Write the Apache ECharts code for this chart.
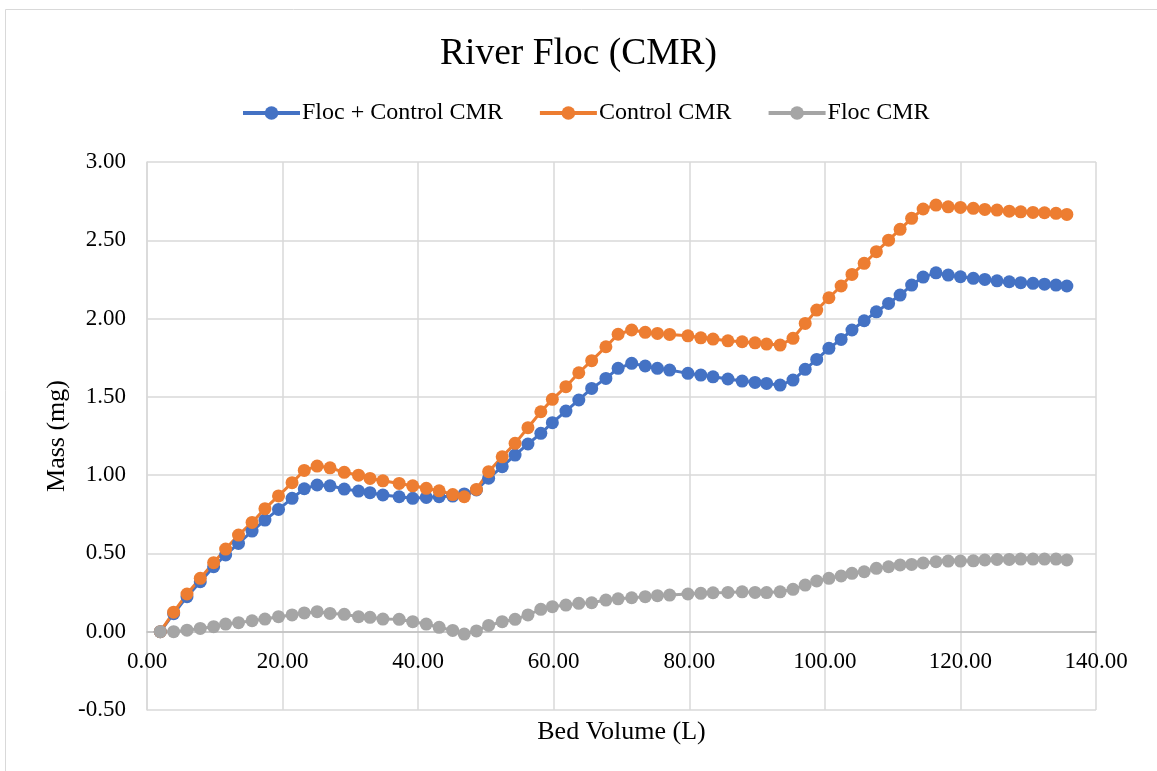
<!DOCTYPE html>
<html>
<head>
<meta charset="utf-8">
<title>River Floc (CMR)</title>
<script src="https://cdn.jsdelivr.net/npm/echarts@6/dist/echarts.min.js"></script>
<style>
  html, body { margin: 0; padding: 0; background: #fff; }
  #lineChart { width: 1157px; height: 771px; }
</style>
</head>
<body>
<div id="lineChart"></div>
<script>
// values
let bedVolume = [1.96, 3.93, 5.9, 7.86, 9.83, 11.6, 13.5, 15.5, 17.4, 19.4, 21.4, 23.2, 25.1, 27.0, 29.1, 31.2, 32.9, 34.8,
  37.2, 39.2, 41.2, 43.1, 45.1, 46.8, 48.6, 50.4, 52.4, 54.3, 56.2, 58.1, 59.8, 61.8, 63.7, 65.6, 67.7, 69.5,
  71.5, 73.5, 75.3, 77.1, 79.8, 81.7, 83.5, 85.7, 87.8, 89.7, 91.4, 93.4, 95.3, 97.1, 98.8, 100.6, 102.4, 104.0,
  105.8, 107.6, 109.4, 111.1, 112.8, 114.5, 116.4, 118.2, 120.0, 121.9, 123.6, 125.4, 127.2, 128.9, 130.7, 132.4, 134.1, 135.7]

let flocControl = [0, 0.115, 0.224, 0.319, 0.415, 0.49, 0.564, 0.643, 0.713, 0.781, 0.852, 0.913, 0.937, 0.932, 0.911, 0.898, 0.888, 0.873,
  0.862, 0.852, 0.858, 0.862, 0.866, 0.88, 0.905, 0.98, 1.054, 1.128, 1.199, 1.267, 1.335, 1.409, 1.48, 1.554, 1.618, 1.682,
  1.714, 1.697, 1.682, 1.671, 1.65, 1.639, 1.628, 1.614, 1.601, 1.592, 1.586, 1.575, 1.607, 1.676, 1.739, 1.81, 1.867, 1.927,
  1.986, 2.043, 2.097, 2.15, 2.214, 2.265, 2.292, 2.278, 2.267, 2.257, 2.25, 2.241, 2.235, 2.229, 2.225, 2.22, 2.214, 2.208]

let control = [0, 0.125, 0.241, 0.341, 0.441, 0.528, 0.617, 0.698, 0.786, 0.867, 0.952, 1.03, 1.058, 1.047, 1.018, 1.0, 0.979, 0.964,
  0.947, 0.932, 0.916, 0.9, 0.876, 0.862, 0.909, 1.022, 1.117, 1.203, 1.303, 1.405, 1.484, 1.565, 1.654, 1.731, 1.82, 1.9,
  1.927, 1.912, 1.905, 1.899, 1.89, 1.877, 1.869, 1.858, 1.852, 1.845, 1.837, 1.831, 1.874, 1.969, 2.054, 2.133, 2.208, 2.282,
  2.353, 2.427, 2.501, 2.57, 2.64, 2.70, 2.725, 2.714, 2.71, 2.704, 2.697, 2.693, 2.686, 2.682, 2.678, 2.676, 2.672, 2.665]

let floc = [0, 0, 0.01, 0.021, 0.032, 0.049, 0.058, 0.07, 0.081, 0.096, 0.107, 0.12, 0.128, 0.117, 0.111, 0.096, 0.092, 0.081,
  0.079, 0.064, 0.049, 0.028, 0.008, -0.015, 0.005, 0.04, 0.064, 0.079, 0.107, 0.143, 0.16, 0.17, 0.181, 0.185, 0.202, 0.21,
  0.217, 0.224, 0.23, 0.234, 0.241, 0.245, 0.249, 0.251, 0.255, 0.251, 0.25, 0.255, 0.271, 0.298, 0.324, 0.341, 0.356, 0.373,
  0.383, 0.405, 0.415, 0.426, 0.43, 0.439, 0.447, 0.451, 0.451, 0.453, 0.458, 0.462, 0.462, 0.464, 0.464, 0.464, 0.464, 0.458]

let seriesNames = ['Floc + Control CMR', 'Control CMR', 'Floc CMR']
let seriesColors = ['#4472C4', '#ED7D31', '#A5A5A5']

let font = "'Times New Roman', 'Liberation Serif', serif"

function pairs(ys) {
  return bedVolume.map((x, i) => [x, ys[i]])
}

let myChart = echarts.init(document.getElementById('lineChart'))
let options = {
  animation: false,
  backgroundColor: '#fff',
  title: {
    text: 'River Floc (CMR)',
    left: 'center',
    top: 30,
    textStyle: {
      fontFamily: font,
      fontSize: 37.5,
      fontWeight: 'normal',
      color: '#000'
    }
  },
  legend: {
    top: 96,
    left: 236,
    itemGap: 35,
    itemWidth: 57,
    itemHeight: 17,
    data: seriesNames,
    lineStyle: { width: 4 },
    textStyle: {
      fontFamily: font,
      fontSize: 24,
      color: '#000',
      padding: [0, 0, 0, -3]
    }
  },
  graphic: [{
    type: 'rect',
    shape: { x: 5.5, y: 9.5, width: 1170, height: 780 },
    style: { fill: 'none', stroke: '#d9d9d9', lineWidth: 1 },
    silent: true
  }],
  grid: {
    left: 147,
    right: 61,
    top: 162,
    bottom: 61,
    containLabel: false,
    outerBoundsMode: 'none'
  },
  xAxis: {
    type: 'value',
    min: 0,
    max: 140,
    interval: 20,
    name: 'Bed Volume (L)',
    nameLocation: 'middle',
    nameGap: 9,
    nameMoveOverlap: false,
    nameTextStyle: { fontFamily: font, fontSize: 26, color: '#000' },
    axisLine: { onZero: true, lineStyle: { color: '#bfbfbf', width: 1.5 } },
    axisTick: { show: false },
    axisLabel: {
      // labels stay at the grid bottom, pull them up under the zero line
      margin: -60,
      fontFamily: font,
      fontSize: 23,
      color: '#000',
      formatter: v => v.toFixed(2)
    },
    splitLine: { show: true, lineStyle: { color: '#d9d9d9', width: 1.5 } }
  },
  yAxis: {
    type: 'value',
    min: -0.5,
    max: 3,
    interval: 0.5,
    name: 'Mass (mg)',
    nameLocation: 'middle',
    nameGap: 77,
    nameMoveOverlap: false,
    nameTextStyle: { fontFamily: font, fontSize: 26, color: '#000' },
    axisLine: { show: true, lineStyle: { color: '#d9d9d9', width: 1.5 } },
    axisTick: { show: false },
    axisLabel: {
      margin: 21,
      fontFamily: font,
      fontSize: 23,
      color: '#000',
      formatter: v => v.toFixed(2)
    },
    splitLine: { show: true, lineStyle: { color: '#d9d9d9', width: 1.5 } }
  },
  series: [flocControl, control, floc].map((ys, i) => ({
    name: seriesNames[i],
    type: 'line',
    data: pairs(ys),
    symbol: 'circle',
    symbolSize: 13,
    color: seriesColors[i],
    itemStyle: { color: seriesColors[i] },
    lineStyle: { color: seriesColors[i], width: 3 }
  }))
}
myChart.setOption(options)
</script>
</body>
</html>
